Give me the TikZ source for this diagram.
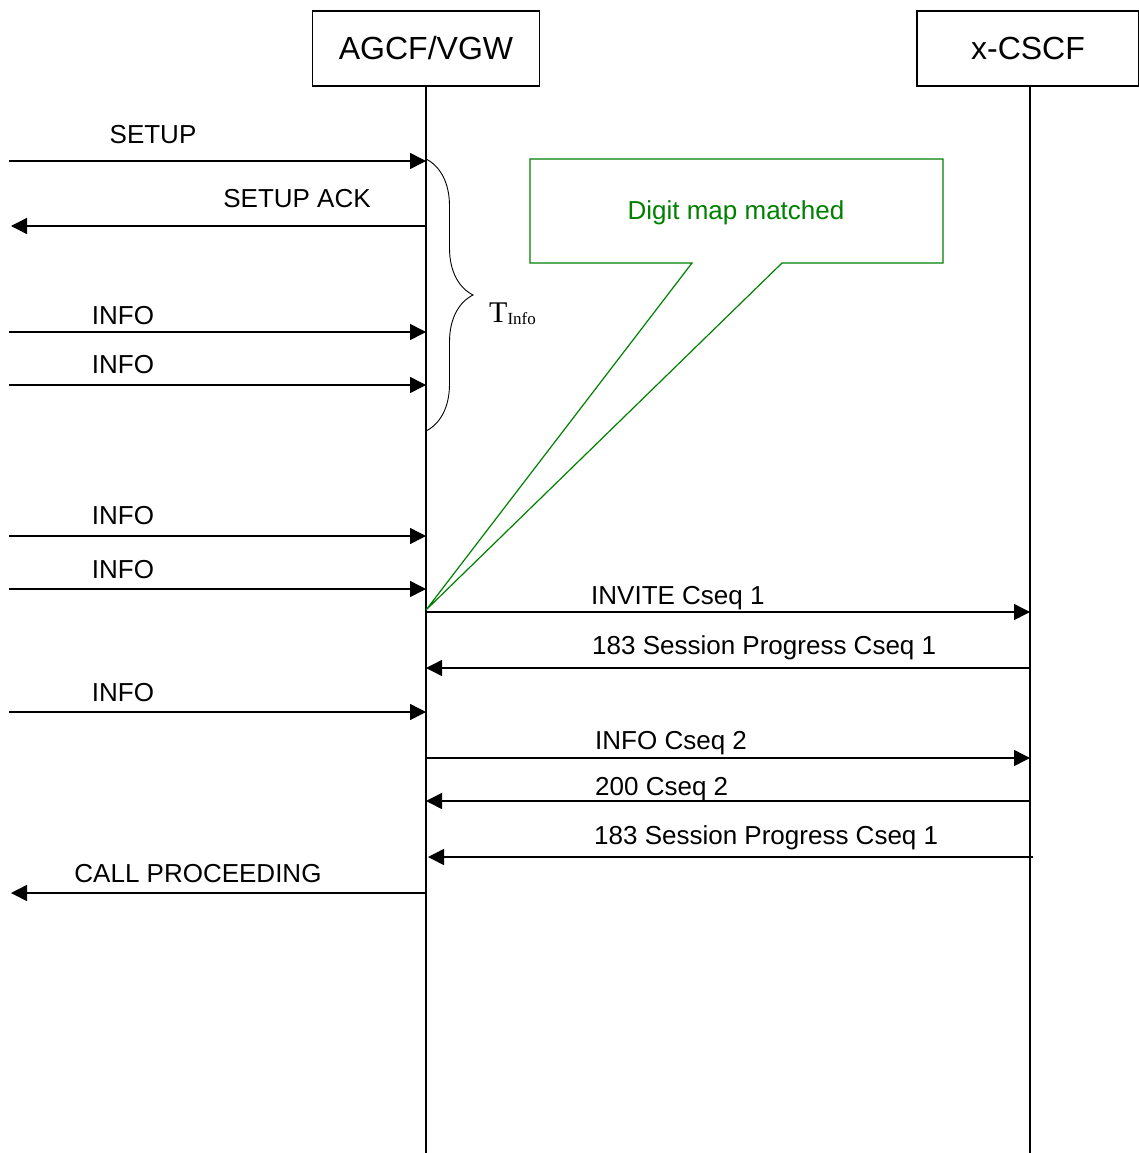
\documentclass[tikz,border=0pt]{standalone}
\usepackage{fontspec}
\setmainfont{Liberation Sans}
\newfontfamily\timesfont{Liberation Serif}
\usetikzlibrary{arrows.meta, decorations.pathreplacing, calligraphy}
\definecolor{verde}{RGB}{0,128,0}

\begin{document}
\begin{tikzpicture}[x=1pt, y=-1pt,
    ente/.style={draw, line width=1.5pt, minimum width=227pt, minimum height=75pt,
        font=\fontsize{32}{36}\selectfont},
    msg/.style={line width=1.5pt, -{Triangle[length=16pt, width=16pt]}},
    lbl/.style={font=\fontsize{26}{30}\selectfont, inner sep=0pt}]
    % Parametri
    \pgfmathsetmacro{\xl}{9}
    \pgfmathsetmacro{\xt}{11}
    \pgfmathsetmacro{\xa}{426}
    \pgfmathsetmacro{\xb}{1030}
    \pgfmathsetmacro{\yfine}{1153}
    \useasboundingbox (0,0) rectangle (1139,1153);
    % Entita
    \node[ente] (agcf) at (\xa,48.5) {AGCF/VGW};
    \node[ente, minimum width=222pt] (cscf) at (1028,48.5) {x-CSCF};
    \coordinate (agfine) at (\xa,\yfine);
    \coordinate (csfine) at (\xb,\yfine);
    \draw[line width=1.5pt] (agcf.south) -- (agfine);
    \draw[line width=1.5pt] (cscf.south -| csfine) -- (csfine);
    % Messaggi a sinistra
    \coordinate (u161) at (\xl,161); \coordinate (a161) at (\xa,161);
    \draw[msg] (u161) -- (a161);
    \node[lbl, anchor=base] (setup) at (153,143) {SETUP};
    \coordinate (u226) at (\xt,226); \coordinate (a226) at (\xa,226);
    \draw[msg] (a226) -- (u226);
    \node[lbl, anchor=base] (setupack) at (297,207) {SETUP ACK};
    \foreach \y/\b in {332/324, 385/373, 536/524, 589/578, 712/701}{
        \coordinate (u\y) at (\xl,\y);
        \coordinate (a\y) at (\xa,\y);
        \draw[msg] (u\y) -- (a\y);
        \node[lbl, anchor=base] (info\y) at (123,\b) {INFO};
    }
    \coordinate (u893) at (\xt,893); \coordinate (a893) at (\xa,893);
    \draw[msg] (a893) -- (u893);
    \node[lbl, anchor=base] (callproc) at (198,882) {CALL PROCEEDING};
    % Messaggi a destra
    \coordinate (a612) at (\xa,612); \coordinate (c612) at (\xb,612);
    \draw[msg] (a612) -- (c612);
    \node[lbl, anchor=base west] (invite) at (591,604) {INVITE Cseq 1};
    \coordinate (a668) at (\xa,668); \coordinate (c668) at (\xb,668);
    \draw[msg] (c668) -- (a668);
    \node[lbl, anchor=base west] (prog1) at (592,654) {183 Session Progress Cseq 1};
    \coordinate (a758) at (\xa,758); \coordinate (c758) at (\xb,758);
    \draw[msg] (a758) -- (c758);
    \node[lbl, anchor=base west] (infocseq) at (595,749) {INFO Cseq 2};
    \coordinate (a801) at (\xa,801); \coordinate (c801) at (\xb,801);
    \draw[msg] (c801) -- (a801);
    \node[lbl, anchor=base west] (ok) at (595,795) {200 Cseq 2};
    \coordinate (a857) at (428,857); \coordinate (c857) at (1033,857);
    \draw[msg] (c857) -- (a857);
    \node[lbl, anchor=base west] (prog2) at (594,844) {183 Session Progress Cseq 1};
    % Graffa
    \coordinate (bs) at (\xa,159);
    \coordinate (be) at (\xa,431);
    \draw[line width=0.9pt, decorate, decoration={brace, amplitude=47pt}] (bs) -- (be);
    \node[anchor=base west, inner sep=0pt] (tinfo) at (489,322)
        {\timesfont\fontsize{30}{32}\selectfont T\raisebox{-2pt}{\fontsize{17}{20}\selectfont Info}};
    % Nota
    \coordinate (tip) at (\xa,610);
    \draw[verde, line width=1.2pt] (530,159) -- (943,159) -- (943,263) -- (782,263)
        -- (tip) -- (692,263) -- (530,263) -- cycle;
    \node[lbl, text=verde, anchor=base] (digit) at (736,219) {Digit map matched};
\end{tikzpicture}
\end{document}
